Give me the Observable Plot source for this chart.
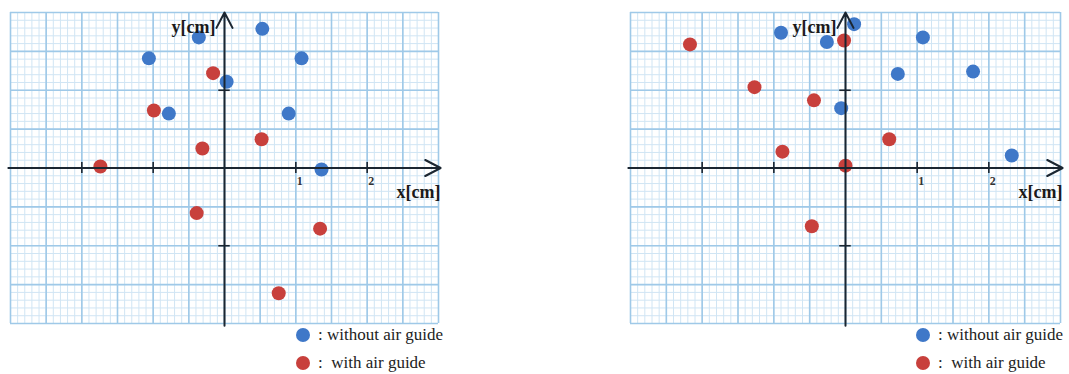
<!DOCTYPE html>
<html>
<head>
<meta charset="utf-8">
<script src="https://cdn.jsdelivr.net/npm/d3@7"></script>
<script src="https://cdn.jsdelivr.net/npm/@observablehq/plot@0.6"></script>
<style>
  html, body { margin: 0; padding: 0; background: #fff; }
  #page { position: relative; width: 1069px; height: 374px; overflow: hidden; }
  .panel { position: absolute; top: 0; }
  .legend { position: absolute; font-family: "Liberation Serif", "Times New Roman", serif; font-size: 17px; color: #222; white-space: pre; }
  .legend .row { position: absolute; left: 0; display: flex; align-items: center; height: 20px; }
  .legend .sw { display: inline-block; width: 14px; height: 14px; border-radius: 50%; margin-right: 8px; }
</style>
</head>
<body>
<div id="page"></div>
<script>
// ---- Data (cm) ----
const leftWithoutX = [0.53, -0.36, -1.06, 1.08, 0.03, -0.78, 0.90, 1.36];
const leftWithoutY = [1.79, 1.68, 1.41, 1.41, 1.11, 0.70, 0.70, -0.02];
const leftWithX    = [-0.16, -0.99, 0.52, -0.31, -1.74, -0.39, 1.34, 0.76];
const leftWithY    = [1.22, 0.74, 0.37, 0.25, 0.02, -0.58, -0.78, -1.61];

const rightWithoutX = [0.12, -0.90, -0.26, 1.08, 0.73, 1.78, -0.06, 2.32];
const rightWithoutY = [1.85, 1.74, 1.62, 1.68, 1.21, 1.24, 0.77, 0.16];
const rightWithX    = [-2.17, -0.02, -1.27, -0.44, 0.61, -0.88, 0.00, -0.47];
const rightWithY    = [1.59, 1.64, 1.04, 0.87, 0.37, 0.21, 0.03, -0.75];

const xDomain = [-3, 3];
const yDomain = [-2, 2];
const xTicks = [-2, -1, 1, 2];
const xTickLabels = [1, 2];
const yTicks = [-1, 1];
const seriesNames = [": without air guide", ":\u00a0\u00a0with air guide"];
const xLabel = "x[cm]";
const yLabel = "y[cm]";

const blue = "#3f78c8";
const red = "#c8403c";
const axisColor = "#1b2631";
const minorColor = "#d0e5f4";
const majorColor = "#9fc9e8";

const zip = (xs, ys) => xs.map((x, i) => ({x, y: ys[i]}));

function makePanel(withoutPts, withPts, width, plotW) {
  const minorX = d3.range(xDomain[0] * 10, xDomain[1] * 10 + 1).map(i => i / 10);
  const minorY = d3.range(yDomain[0] * 10, yDomain[1] * 10 + 1).map(i => i / 10);
  const majorX = d3.range(xDomain[0] * 2, xDomain[1] * 2 + 1).map(i => i / 2);
  const majorY = d3.range(yDomain[0] * 2, yDomain[1] * 2 + 1).map(i => i / 2);
  const ext = 0.03;
  return Plot.plot({
    width,
    height: 330,
    marginLeft: 10,
    marginRight: width - 10 - plotW,
    marginTop: 12,
    marginBottom: 7,
    x: {domain: xDomain, axis: null},
    y: {domain: yDomain, axis: null},
    style: {background: "transparent", overflow: "visible"},
    marks: [
      Plot.ruleX(minorX, {x: d => d, y1: () => yDomain[0], y2: () => yDomain[1], stroke: minorColor, strokeWidth: 1}),
      Plot.ruleY(minorY, {y: d => d, x1: () => xDomain[0], x2: () => xDomain[1], stroke: minorColor, strokeWidth: 1}),
      Plot.ruleX(majorX, {x: d => d, y1: () => yDomain[0], y2: () => yDomain[1], stroke: majorColor, strokeWidth: 1.6}),
      Plot.ruleY(majorY, {y: d => d, x1: () => xDomain[0], x2: () => xDomain[1], stroke: majorColor, strokeWidth: 1.6}),
      Plot.dot(withoutPts, {x: "x", y: "y", r: 7, fill: blue}),
      Plot.dot(withPts, {x: "x", y: "y", r: 7, fill: red}),
      // axes
      Plot.arrow([{x1: xDomain[0] - ext, y1: 0, x2: xDomain[1] + ext, y2: 0}],
        {x1: "x1", y1: "y1", x2: "x2", y2: "y2", stroke: axisColor, strokeWidth: 2, headLength: 13, headAngle: 55}),
      Plot.arrow([{x1: 0, y1: yDomain[0] - ext, x2: 0, y2: yDomain[1]}],
        {x1: "x1", y1: "y1", x2: "x2", y2: "y2", stroke: axisColor, strokeWidth: 2, headLength: 13, headAngle: 55}),
      Plot.ruleX(xTicks, {x: d => d, y1: () => -0.07, y2: () => 0.07, stroke: axisColor, strokeWidth: 1.6}),
      Plot.ruleY(yTicks, {y: d => d, x1: () => -0.08, x2: () => 0.08, stroke: axisColor, strokeWidth: 1.6}),
      Plot.text(xTickLabels, {x: d => d, y: () => 0, text: d => String(d), dx: 4, dy: 13,
        fontFamily: "Liberation Serif", fontWeight: "bold", fontSize: 12, fill: "#333"}),
      Plot.text([yLabel], {x: () => 0, y: () => yDomain[1], text: d => d, textAnchor: "end", dx: -9, dy: 15,
        fontFamily: "Liberation Serif", fontWeight: "bold", fontSize: 18, fill: "#1a1a1a"}),
      Plot.text([xLabel], {x: () => xDomain[1], y: () => 0, text: d => d, textAnchor: "end", dx: 2, dy: 24,
        fontFamily: "Liberation Serif", fontWeight: "bold", fontSize: 18, fill: "#1a1a1a"})
    ]
  });
}

function makeLegend(left) {
  const lg = document.createElement("div");
  lg.className = "legend";
  lg.style.left = left + "px";
  lg.style.top = "0px";
  [[blue, seriesNames[0], 325], [red, seriesNames[1], 353]].forEach(([c, t, top]) => {
    const row = document.createElement("div");
    row.className = "row";
    row.style.top = top + "px";
    const sw = document.createElement("span");
    sw.className = "sw";
    sw.style.background = c;
    row.appendChild(sw);
    row.appendChild(document.createTextNode(t));
    lg.appendChild(row);
  });
  return lg;
}

const page = document.getElementById("page");

const p1 = document.createElement("div");
p1.className = "panel";
p1.style.left = "0px";
p1.appendChild(makePanel(zip(leftWithoutX, leftWithoutY), zip(leftWithX, leftWithY), 450, 428));
page.appendChild(p1);
page.appendChild(makeLegend(296));

const p2 = document.createElement("div");
p2.className = "panel";
p2.style.left = "620px";
p2.appendChild(makePanel(zip(rightWithoutX, rightWithoutY), zip(rightWithX, rightWithY), 449, 430));
page.appendChild(p2);
page.appendChild(makeLegend(916));
</script>
</body>
</html>
